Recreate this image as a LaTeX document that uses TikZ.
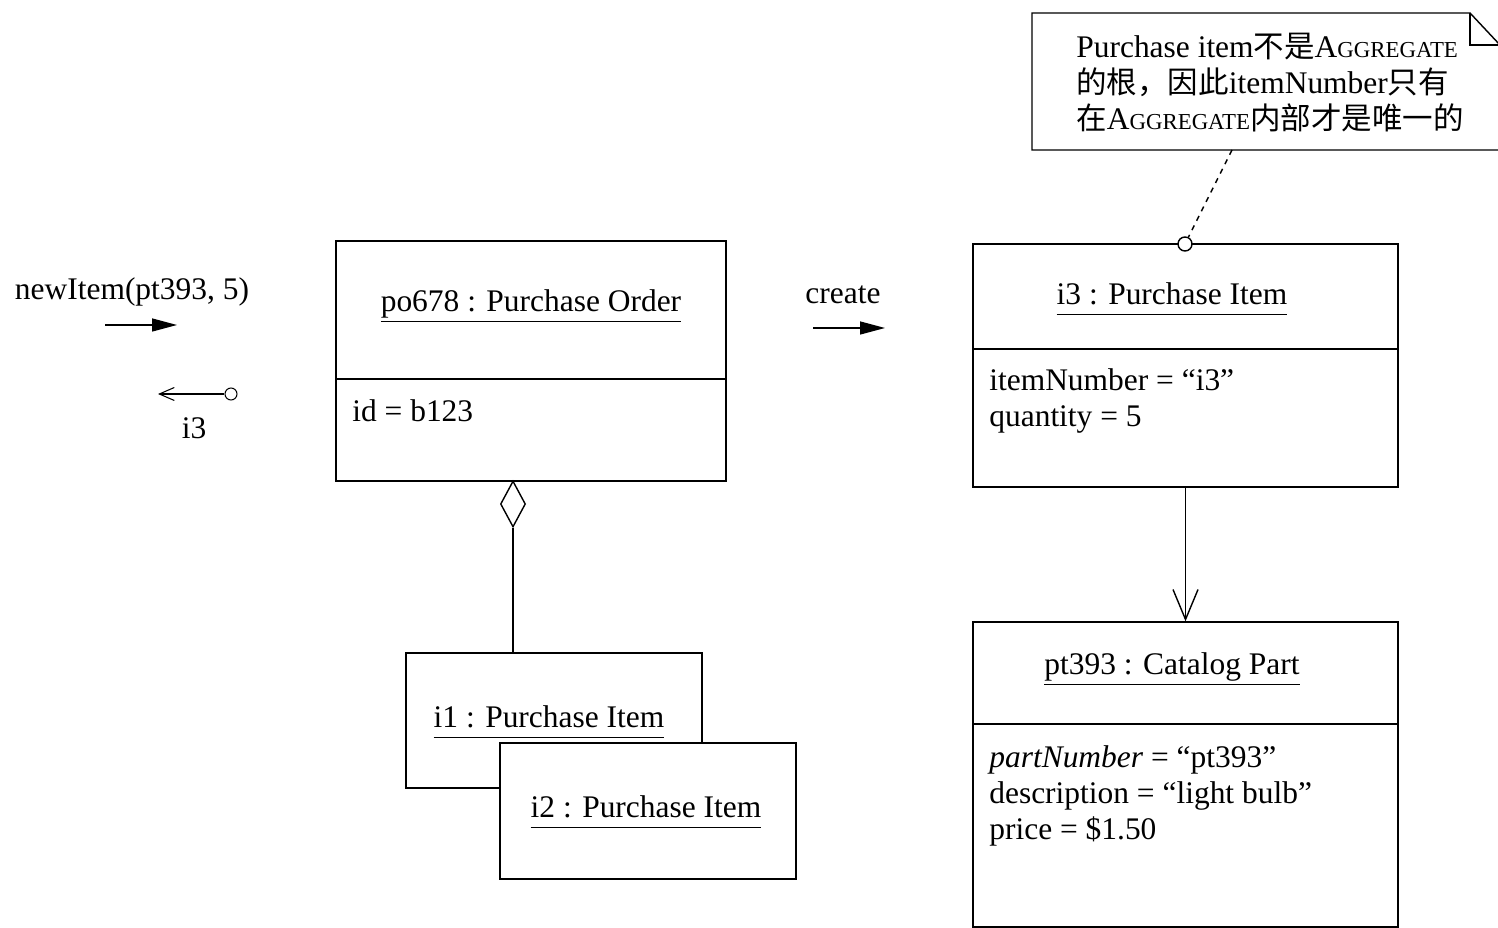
\documentclass[tikz,border=0pt]{standalone}
\usepackage{fontspec}
\setmainfont{Liberation Serif}
\newfontfamily\cjk[Scale=0.97]{Noto Sans CJK SC}
\usetikzlibrary{arrows.meta,positioning,shapes.geometric}
\newcommand{\aggr}{A{\fontsize{13}{14}\selectfont GGREGATE}}
\newcommand{\objname}[1]{\underline{#1\rule[-4.6pt]{0pt}{0pt}}}

\begin{document}
\begin{tikzpicture}[x=0.02cm,y=-0.02cm,
  obj/.style={draw,line width=0.8pt,fill=white,inner sep=0pt},
  txt/.style={font=\fontsize{17.9}{20.5}\selectfont,inner sep=0pt},
  attr/.style={txt,anchor=west,align=left},
  msg/.style={-{Triangle[length=5mm,width=2.6mm]},line width=0.8pt},
  ret/.style={-{Straight Barb[length=3mm,width=2.6mm]},line width=0.6pt},
  nav/.style={-{Straight Barb[length=6mm,width=5mm]},line width=0.8pt}]
\useasboundingbox (0,0) rectangle (1498,928);
\clip (0,0) rectangle (1498,928);
\coordinate (poCut) at (0,379);
\coordinate (i3Cut) at (0,349);
\coordinate (ptCut) at (0,724);

% purchase order and its items
\node[obj,minimum width=7.8cm,minimum height=4.8cm] (po) at (531,361) {};
\draw[line width=0.8pt] (po.west |- poCut) -- (po.east |- poCut);
\node[txt] (poName) at (531,306) {\objname{po678 : Purchase Order}};
\node[attr] (poAttr) at (352,411) {id = b123};

\node[draw,diamond,line width=0.8pt,inner sep=0pt,minimum width=0.5cm,
      minimum height=0.92cm,fill=white] (agg) at (513,504) {};
\node[obj,minimum width=5.92cm,minimum height=2.7cm] (i1) at (554,720.5) {};
\node[txt] (i1Name) at (549,722) {\objname{i1 : Purchase Item}};
\node[obj,minimum width=5.92cm,minimum height=2.72cm] (i2) at (648,811) {};
\node[txt] (i2Name) at (646,812) {\objname{i2 : Purchase Item}};
\draw[line width=0.8pt] (agg.south) -- (agg.south |- i1.north);

% new item and catalog part
\node[obj,minimum width=8.5cm,minimum height=4.86cm] (i3) at (1185.5,365.5) {};
\draw[line width=0.8pt] (i3.west |- i3Cut) -- (i3.east |- i3Cut);
\node[txt] (i3Name) at (1172,299) {\objname{i3 : Purchase Item}};
\node[attr] (i3Attr) at (989,401) {itemNumber = “i3”\\quantity = 5};

\node[obj,minimum width=8.5cm,minimum height=6.1cm] (pt) at (1185.5,774.5) {};
\draw[line width=0.8pt] (pt.west |- ptCut) -- (pt.east |- ptCut);
\node[txt] (ptName) at (1172,669) {\objname{pt393 : Catalog Part}};
\node[attr] (ptAttr) at (989,796) {\textit{partNumber} = “pt393”\\
   description = “light bulb”\\price = \$1.50};
\draw[nav] (i3) -- (pt);

% messages
\node[txt] (newItem) at (132,292) {newItem(pt393, 5)};
\coordinate (newA) at (105,325);
\coordinate (newB) at (177,325);
\draw[msg] (newA) -- (newB);
\node[draw,circle,inner sep=0pt,minimum size=0.24cm,line width=0.6pt] (retO) at (231,394) {};
\coordinate (retEnd) at (158,394);
\draw[ret] (retO) -- (retEnd);
\node[txt] (retLbl) at (194,428) {i3};
\node[txt] (create) at (843,295) {create};
\coordinate (crA) at (813,328);
\coordinate (crB) at (885,328);
\draw[msg] (crA) -- (crB);

% note
\draw[line width=0.8pt,fill=white] (1032,13) -- (1470,13) -- (1500,45)
   -- (1500,150) -- (1032,150) -- cycle;
\draw[line width=0.8pt] (1470,13) -- (1470,45) -- (1500,45);
\node[attr] (note) at (1076,83) {Purchase item{\cjk 不是}\aggr\\
   {\cjk 的根，因此}itemNumber{\cjk 只有}\\{\cjk 在}\aggr{\cjk 内部才是唯一的}};
\coordinate (noteFoot) at (1232,150);
\node[draw,circle,inner sep=0pt,minimum size=0.28cm,line width=0.8pt,fill=white]
   (noteO) at (1185,244) {};
\draw[dashed,line width=0.8pt] (noteFoot) -- (noteO);
\end{tikzpicture}
\end{document}
